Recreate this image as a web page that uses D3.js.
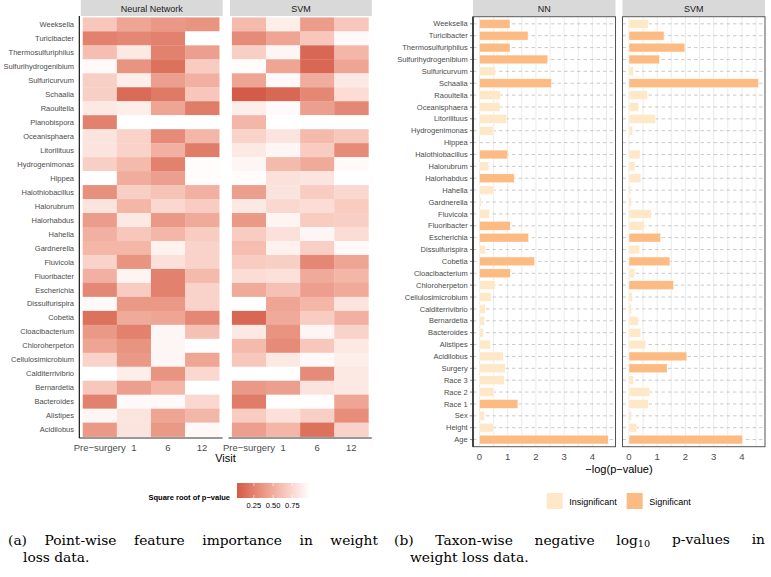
<!DOCTYPE html>
<html><head><meta charset="utf-8">
<script src="https://cdn.jsdelivr.net/npm/d3@7"></script>
<style>body{margin:0;background:#fff} svg{display:block}</style>
</head><body>
<svg id="c" width="771" height="577"></svg>
<script>
// ---------- Heatmap data (a) ----------
const heatTaxa = ["Weeksella","Turicibacter","Thermosulfuriphilus","Sulfurihydrogenibium","Sulfuricurvum","Schaalia","Raoultella","Planobispora","Oceanisphaera","Litorilituus","Hydrogenimonas","Hippea","Halothiobacillus","Halorubrum","Halorhabdus","Hahella","Gardnerella","Fluvicola","Fluoribacter","Escherichia","Dissulfurispira","Cobetia","Cloacibacterium","Chloroherpeton","Cellulosimicrobium","Calditerrivibrio","Bernardetia","Bacteroides","Alistipes","Acidilobus"];
const visits = ["Pre\u2212surgery","1","6","12"];
const heatModels = ["Neural Network","SVM"];
// square root of p-value, columns: Pre-surgery, 1, 6, 12
const nnSqrtP = [
[0.65,0.45,0.38,0.35],
[0.25,0.28,0.25,0.98],
[0.60,0.85,0.25,0.42],
[0.95,0.35,0.15,0.68],
[0.70,0.88,0.42,0.52],
[0.70,0.12,0.20,0.65],
[0.85,0.88,0.45,0.22],
[0.25,0.98,0.98,0.98],
[0.82,0.72,0.30,0.55],
[0.82,0.72,0.52,0.22],
[0.70,0.58,0.25,0.96],
[0.98,0.50,0.42,0.96],
[0.33,0.70,0.63,0.52],
[0.82,0.55,0.75,0.68],
[0.40,0.85,0.38,0.48],
[0.52,0.65,0.55,0.68],
[0.55,0.55,0.90,0.72],
[0.72,0.35,0.80,0.72],
[0.52,0.92,0.25,0.58],
[0.28,0.68,0.25,0.72],
[0.95,0.38,0.38,0.72],
[0.15,0.48,0.45,0.28],
[0.38,0.25,0.93,0.62],
[0.45,0.35,0.93,0.97],
[0.72,0.38,0.93,0.45],
[0.98,0.88,0.35,0.75],
[0.65,0.42,0.55,0.98],
[0.25,0.95,0.95,0.75],
[0.93,0.82,0.45,0.56],
[0.38,0.82,0.38,0.94]];
const svmSqrtP = [
[0.58,0.88,0.40,0.65],
[0.30,0.45,0.65,0.95],
[0.70,0.93,0.10,0.55],
[0.96,0.45,0.10,0.45],
[0.45,0.95,0.50,0.85],
[0.03,0.10,0.28,0.78],
[0.88,0.95,0.42,0.28],
[0.55,0.98,0.98,0.98],
[0.72,0.82,0.58,0.65],
[0.85,0.93,0.68,0.30],
[0.93,0.58,0.48,0.95],
[0.96,0.80,0.83,0.98],
[0.42,0.82,0.68,0.75],
[0.85,0.75,0.78,0.68],
[0.38,0.92,0.68,0.70],
[0.68,0.80,0.93,0.78],
[0.60,0.90,0.70,0.95],
[0.68,0.70,0.28,0.45],
[0.78,0.80,0.48,0.55],
[0.48,0.62,0.42,0.48],
[0.98,0.45,0.55,0.82],
[0.10,0.48,0.68,0.52],
[0.85,0.35,0.93,0.72],
[0.58,0.30,0.65,0.85],
[0.65,0.85,0.95,0.88],
[0.98,0.98,0.30,0.85],
[0.38,0.42,0.82,0.85],
[0.22,0.97,0.97,0.45],
[0.68,0.80,0.70,0.32],
[0.42,0.55,0.15,0.72]];
const heatLegendTicks = [0.25,0.50,0.75];

// ---------- Bar data (b) ----------
const barFeatures = ["Weeksella","Turicibacter","Thermosulfuriphilus","Sulfurihydrogenibium","Sulfuricurvum","Schaalia","Raoultella","Oceanisphaera","Litorilituus","Hydrogenimonas","Hippea","Halothiobacillus","Halorubrum","Halorhabdus","Hahella","Gardnerella","Fluvicola","Fluoribacter","Escherichia","Dissulfurispira","Cobetia","Cloacibacterium","Chloroherpeton","Cellulosimicrobium","Calditerrivibrio","Bernardetia","Bacteroides","Alistipes","Acidilobus","Surgery","Race 3","Race 2","Race 1","Sex","Height","Age"];
const barModels = ["NN","SVM"];
const nnNegLogP = [1.08,1.72,1.08,2.42,0.56,2.55,0.74,0.73,0.96,0.51,0.0,1.00,0.33,1.23,0.51,0.06,0.35,1.09,1.74,0.21,1.95,1.09,0.55,0.41,0.20,0.18,0.14,0.39,0.84,0.91,0.88,0.51,1.36,0.18,0.49,4.56];
const nnSignificant = [1,1,1,1,0,1,0,0,0,0,0,1,0,1,0,0,0,1,1,0,1,1,0,0,0,0,0,0,0,0,0,0,1,0,0,1];
const svmNegLogP = [0.68,1.24,1.98,1.08,0.16,4.59,0.66,0.34,0.94,0.13,0.0,0.39,0.21,0.42,0.07,0.09,0.79,0.54,1.12,0.38,1.45,0.20,1.58,0.12,0.09,0.32,0.42,0.59,2.05,1.35,0.16,0.73,0.68,0.09,0.28,4.02];
const svmSignificant = [0,1,1,1,0,1,0,0,0,0,0,0,0,0,0,0,0,0,1,0,1,0,1,0,0,0,0,0,1,1,0,0,0,0,0,1];
const barTicks = [0,1,2,3,4];
const sigLevels = ["Insignificant","Significant"];

// ---------- drawing ----------
const svg = d3.select("#c");
svg.append("rect").attr("width", 771).attr("height", 577).attr("fill", "#fff");
const sans = "Liberation Sans, Arial, Helvetica, sans-serif";
const axisGrey = "#4d4d4d";

// ===== (a) heatmap =====
const heatData = [nnSqrtP, svmSqrtP];
const allVals = heatData.flat(2);
const ext = d3.extent(allVals);
const lowCol = "#d35b47";
const color = d3.scaleLinear().domain(ext).range([lowCol, "#ffffff"]).interpolate(d3.interpolateLab);

const hTop = 16, hBottom = 438;
const heatPanels = [[79.3, 222.6],[228.5, 371.8]];
const yHeat = d3.scaleBand().domain(heatTaxa).range([hTop, hBottom]).paddingOuter(0.1).paddingInner(0);

heatModels.forEach((m, pi) => {
  const [x0, x1] = heatPanels[pi];
  const xHeat = d3.scaleBand().domain(visits).range([x0, x1]).paddingOuter(0.1).paddingInner(0);
  const g = svg.append("g");
  g.append("rect").attr("x", x0+1.5).attr("y", 0).attr("width", x1-x0-1.5).attr("height", 16).attr("fill", "#d9d9d9");
  g.append("text").attr("x", (x0+x1)/2+0.75).attr("y", 11.5).attr("text-anchor","middle")
    .attr("font-family", sans).attr("font-size", 9).attr("fill","#1a1a1a").text(m);
  const cells = [];
  heatTaxa.forEach((t, i) => visits.forEach((v, j) => cells.push({t, v, val: heatData[pi][i][j]})));
  g.selectAll("rect.cell").data(cells).join("rect").attr("class","cell")
    .attr("x", d => xHeat(d.v)).attr("y", d => yHeat(d.t))
    .attr("width", xHeat.bandwidth()+0.3).attr("height", yHeat.bandwidth()+0.3)
    .attr("fill", d => color(d.val));
  g.append("line").attr("x1", x0).attr("x2", x1).attr("y1", hBottom).attr("y2", hBottom)
    .attr("stroke", "#333").attr("stroke-width", 1.1);
  g.selectAll("text.xt").data(visits).join("text").attr("class","xt")
    .attr("x", d => xHeat(d) + xHeat.bandwidth()/2).attr("y", 450.5).attr("text-anchor","middle")
    .attr("font-family", sans).attr("font-size", 9.5).attr("fill", axisGrey).text(d => d);
  if (pi === 0) {
    g.append("line").attr("x1", x0).attr("x2", x0).attr("y1", hTop).attr("y2", hBottom)
      .attr("stroke", "#000").attr("stroke-width", 1.1);
    g.selectAll("text.yt").data(heatTaxa).join("text").attr("class","yt")
      .attr("x", 74).attr("y", d => yHeat(d) + yHeat.bandwidth()/2).attr("dy","0.35em")
      .attr("text-anchor","end").attr("font-family", sans).attr("font-size", 7.5).attr("fill", axisGrey).text(d => d);
  }
});
svg.append("text").attr("x", 225.5).attr("y", 462).attr("text-anchor","middle")
  .attr("font-family", sans).attr("font-size", 11).attr("fill","#000").text("Visit");

// colour legend
const lgX0 = 237, lgW = 73, lgY = 483, lgH = 15;
const lgScale = d3.scaleLinear().domain(ext).range([lgX0, lgX0+lgW]);
const defs = svg.append("defs");
const grad = defs.append("linearGradient").attr("id","hg").attr("x1","0%").attr("x2","100%");
d3.range(0, 1.0001, 0.1).forEach(f => grad.append("stop").attr("offset", (f*100)+"%")
  .attr("stop-color", color(ext[0] + f*(ext[1]-ext[0]))));
svg.append("rect").attr("x", lgX0).attr("y", lgY).attr("width", lgW).attr("height", lgH).attr("fill","url(#hg)");
heatLegendTicks.forEach(t => {
  svg.append("line").attr("x1", lgScale(t)).attr("x2", lgScale(t)).attr("y1", lgY).attr("y2", lgY+3).attr("stroke","#fff").attr("stroke-width",0.6);
  svg.append("line").attr("x1", lgScale(t)).attr("x2", lgScale(t)).attr("y1", lgY+lgH-3).attr("y2", lgY+lgH).attr("stroke","#fff").attr("stroke-width",0.6);
});
svg.selectAll("text.lgt").data(heatLegendTicks).join("text").attr("class","lgt")
  .attr("x", d => lgScale(d)).attr("y", 508).attr("text-anchor","middle")
  .attr("font-family", sans).attr("font-size", 7.5).attr("fill","#000").text(d => d.toFixed(2));
svg.append("text").attr("x", 230).attr("y", 500).attr("text-anchor","end")
  .attr("font-family", sans).attr("font-size", 7.5).attr("font-weight","bold").attr("fill","#000").text("Square root of p\u2212value");

// ===== (b) bars =====
const bTop = 16.7, bBottom = 446.7;
const barPanels = [[473, 615.5],[622.5, 765]];
const maxV = d3.max([...nnNegLogP, ...svmNegLogP]);
const yBar = d3.scalePoint().domain(barFeatures).range([bTop, bBottom]).padding(0.6);
const barH = yBar.step() * 0.74;
const fillSig = d3.scaleOrdinal().domain(sigLevels).range(["#fee8c8", "#fdbb84"]);
const barVals = [nnNegLogP, svmNegLogP];
const barSig = [nnSignificant, svmSignificant];

barModels.forEach((m, pi) => {
  const [x0, x1] = barPanels[pi];
  const x = d3.scaleLinear().domain([-0.05*maxV, 1.05*maxV]).range([x0, x1]);
  const g = svg.append("g");
  g.append("rect").attr("x", x0).attr("y", 0).attr("width", x1-x0).attr("height", 16).attr("fill", "#d9d9d9");
  g.append("text").attr("x", (x0+x1)/2).attr("y", 11.5).attr("text-anchor","middle")
    .attr("font-family", sans).attr("font-size", 9).attr("fill","#1a1a1a").text(m);
  const grid = d3.range(0, 1.05*maxV, 0.5);
  g.selectAll("line.vg").data(grid).join("line").attr("class","vg")
    .attr("x1", d => x(d)).attr("x2", d => x(d)).attr("y1", bTop).attr("y2", bBottom)
    .attr("stroke", "#ebebeb").attr("stroke-width", 1);
  g.selectAll("line.hg").data(barFeatures).join("line").attr("class","hg")
    .attr("x1", x0).attr("x2", x1).attr("y1", d => yBar(d)).attr("y2", d => yBar(d))
    .attr("stroke", "#bdbdbd").attr("stroke-width", 0.8).attr("stroke-dasharray", "3.5,3");
  const rows = barFeatures.map((f, i) => ({f, v: barVals[pi][i], s: sigLevels[barSig[pi][i]]}));
  g.selectAll("rect.bar").data(rows.filter(d => d.v > 0)).join("rect").attr("class","bar")
    .attr("x", x(0)).attr("y", d => yBar(d.f) - barH/2)
    .attr("width", d => x(d.v) - x(0)).attr("height", barH)
    .attr("fill", d => fillSig(d.s)).attr("stroke", "#fff").attr("stroke-width", 0.4);
  g.append("rect").attr("x", x0).attr("y", bTop).attr("width", x1-x0).attr("height", bBottom-bTop)
    .attr("fill","none").attr("stroke","#555").attr("stroke-width", 1);
  if (pi === 0) {
    g.append("line").attr("x1", x0).attr("x2", x0).attr("y1", bTop).attr("y2", bBottom).attr("stroke","#000").attr("stroke-width",1.2);
    g.selectAll("line.yt").data(barFeatures).join("line").attr("class","yt")
      .attr("x1", x0-3).attr("x2", x0).attr("y1", d => yBar(d)).attr("y2", d => yBar(d)).attr("stroke","#333").attr("stroke-width",0.6);
    g.selectAll("text.yl").data(barFeatures).join("text").attr("class","yl")
      .attr("x", x0-5.3).attr("y", d => yBar(d)).attr("dy","0.35em").attr("text-anchor","end")
      .attr("font-family", sans).attr("font-size", 7.5).attr("fill", axisGrey).text(d => d);
  }
  g.selectAll("text.xl").data(barTicks).join("text").attr("class","xl")
    .attr("x", d => x(d)).attr("y", 459.5).attr("text-anchor","middle")
    .attr("font-family", sans).attr("font-size", 9.5).attr("fill", axisGrey).text(d => d);
});
svg.append("text").attr("x", 619).attr("y", 473).attr("text-anchor","middle")
  .attr("font-family", sans).attr("font-size", 11).attr("fill","#000").text("\u2212log(p\u2212value)");

const lgPos = [546.7, 626.7];
sigLevels.forEach((s, i) => {
  svg.append("rect").attr("x", lgPos[i]).attr("y", 493).attr("width", 16).attr("height", 16).attr("fill", fillSig(s));
  svg.append("text").attr("x", lgPos[i] + 22.5).attr("y", 504.5).attr("font-family", sans)
    .attr("font-size", 9).attr("fill","#000").text(s);
});

// ===== captions =====
const serif = "'DejaVu Serif', serif";
const capSize = 13.8;
function justify(sel, width) {
  const node = sel.node();
  const w = node.getComputedTextLength();
  const n = (node.textContent.match(/ /g) || []).length;
  if (n > 0 && width > w) sel.style("word-spacing", ((width - w) / n) + "px");
}
const capA1 = svg.append("text").attr("x", 8).attr("y", 545).attr("font-family", serif).attr("font-size", capSize).text("(a) Point-wise feature importance in weight");
justify(capA1, 370);
svg.append("text").attr("x", 23).attr("y", 561.5).attr("font-family", serif).attr("font-size", capSize).text("loss data.");
const capB1 = svg.append("text").attr("x", 394).attr("y", 545).attr("font-family", serif).attr("font-size", capSize);
capB1.append("tspan").text("(b) Taxon-wise negative log");
capB1.append("tspan").attr("font-size", "70%").attr("dy", "0.25em").text("10");
capB1.append("tspan").attr("dy", "-0.25em").text(" p-values in");
justify(capB1, 371);
svg.append("text").attr("x", 410).attr("y", 561.5).attr("font-family", serif).attr("font-size", capSize).text("weight loss data.");
</script>
</body></html>
